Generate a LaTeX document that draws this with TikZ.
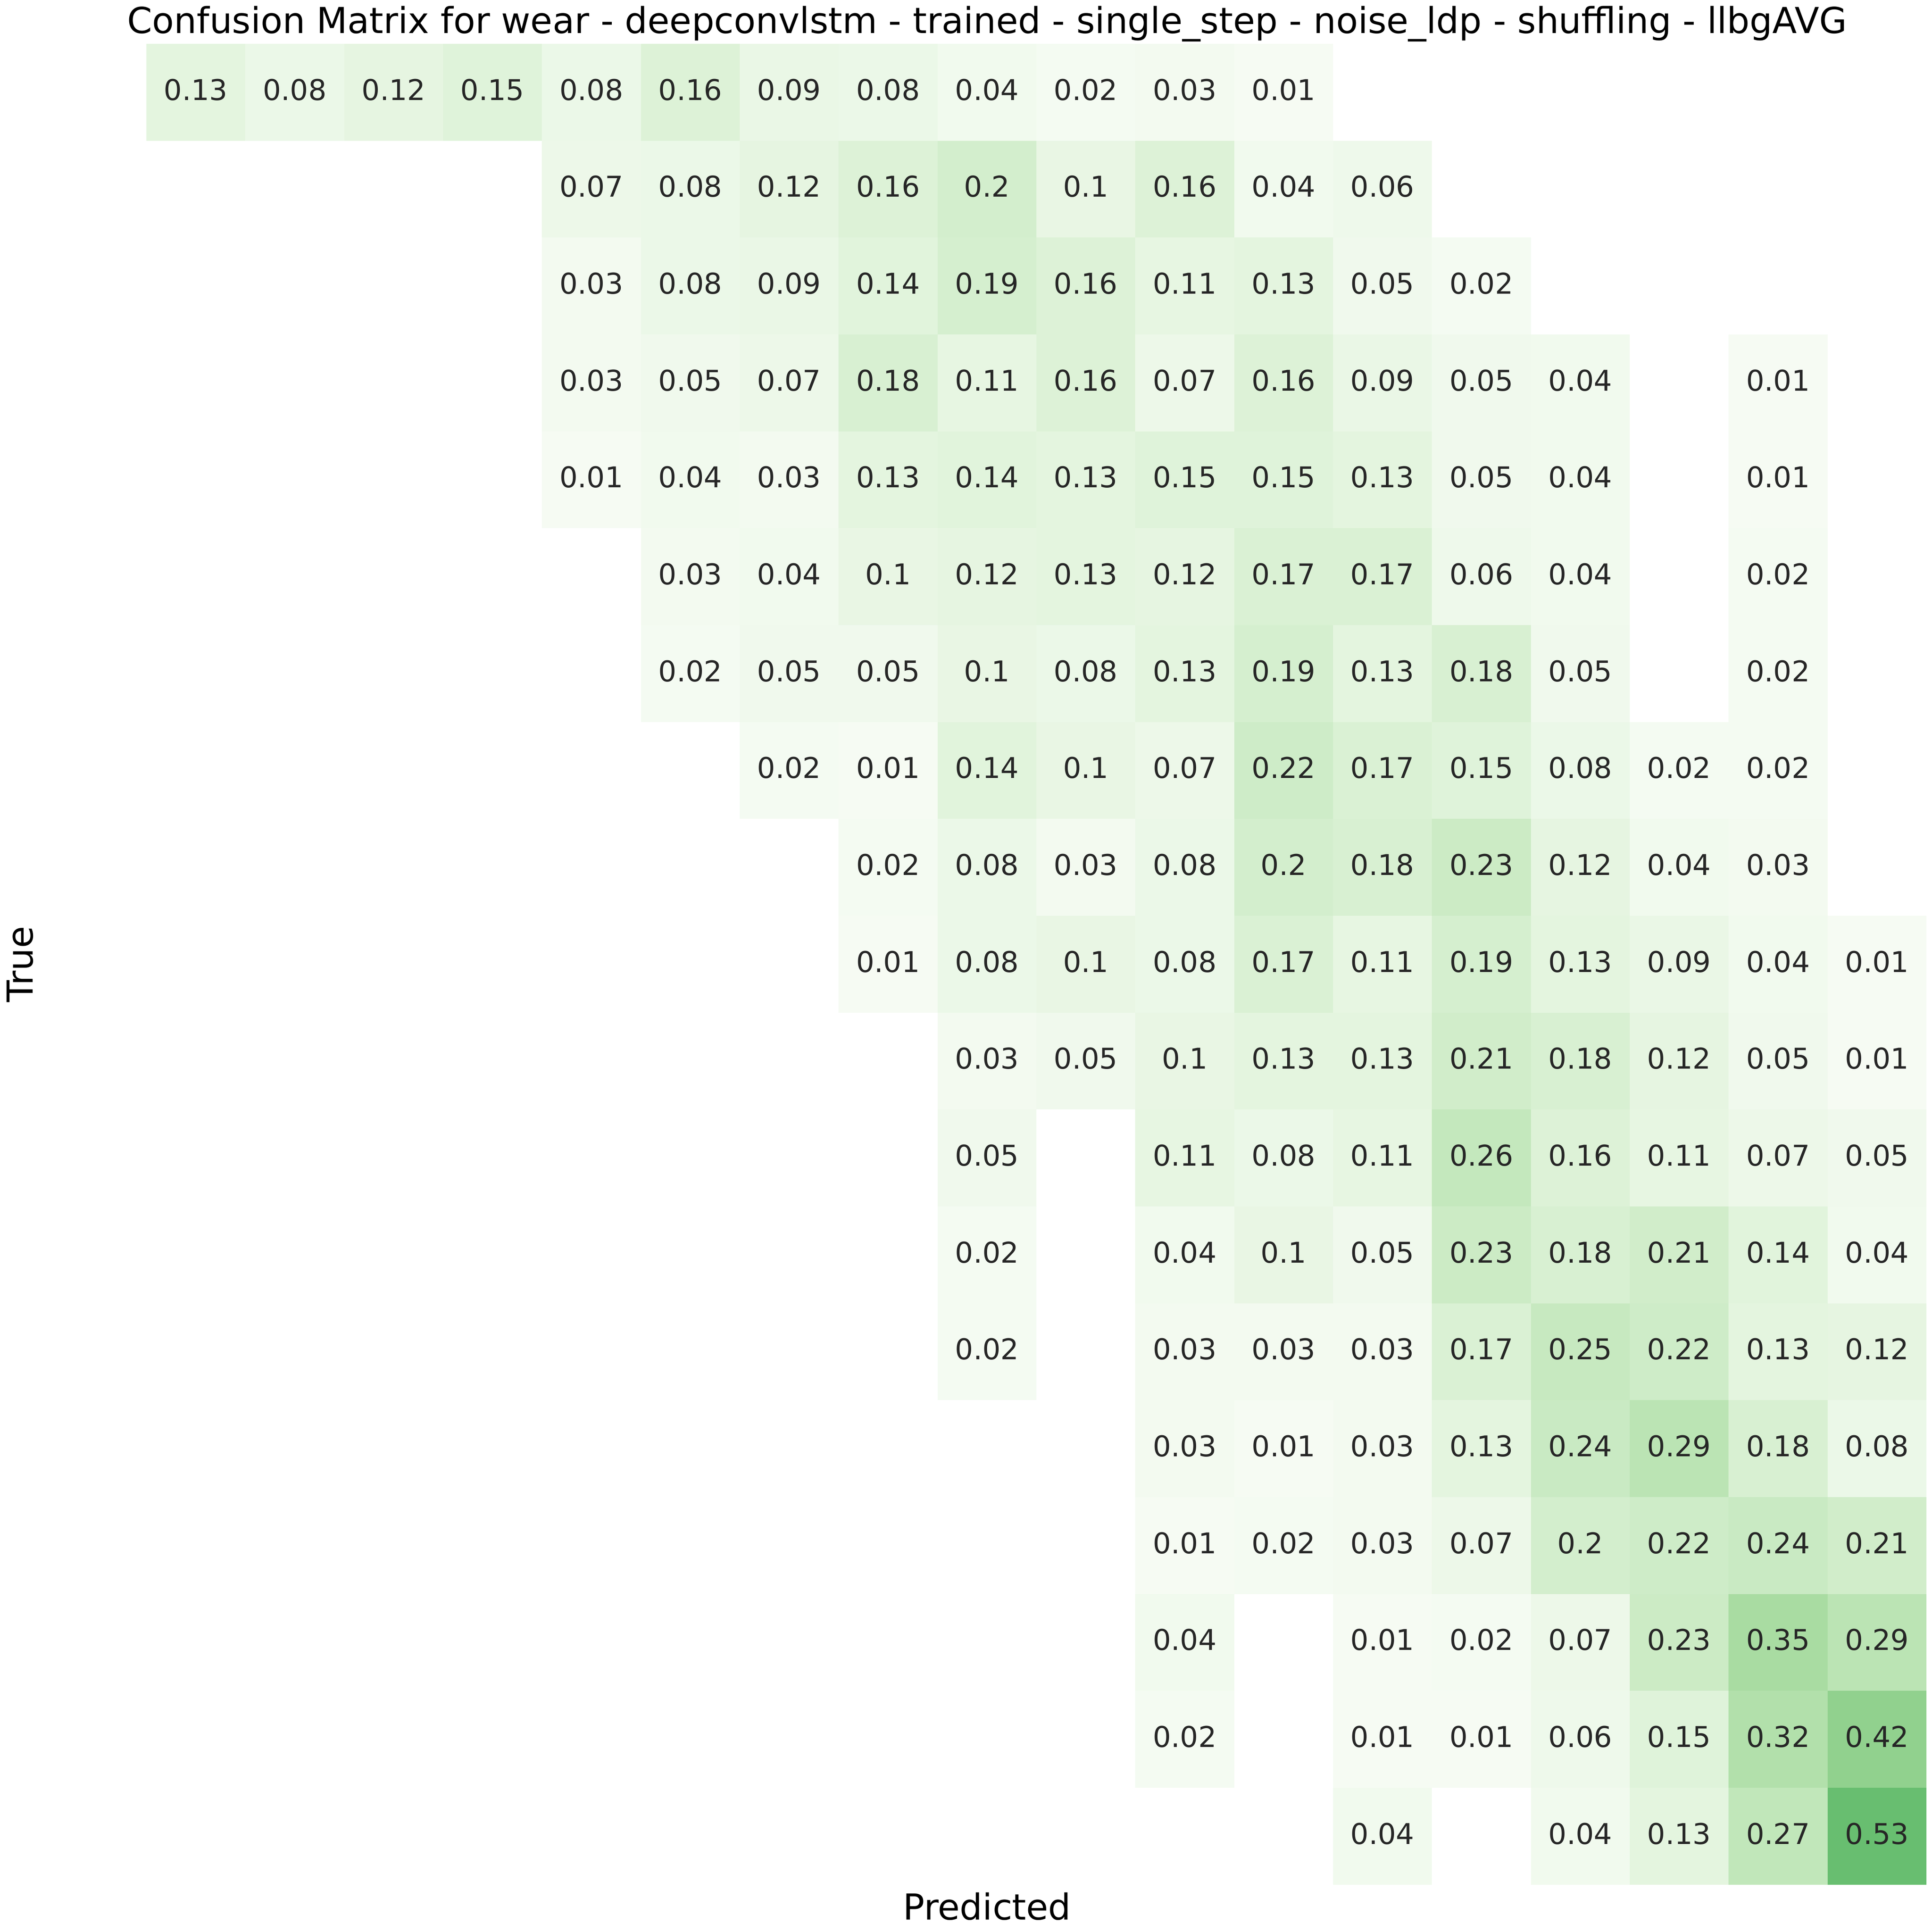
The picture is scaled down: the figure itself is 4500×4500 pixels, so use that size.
\documentclass[tikz,border=0pt]{standalone}
\usepackage{fontspec}
\setmainfont{DejaVu Sans}
\definecolor{gr0}{RGB}{247,252,245}
\definecolor{gr1}{RGB}{229,245,224}
\definecolor{gr2}{RGB}{199,233,192}
\definecolor{gr3}{RGB}{161,217,155}
\definecolor{gr4}{RGB}{116,196,118}
\definecolor{gr5}{RGB}{65,171,93}
\definecolor{annot}{RGB}{38,38,38}
\newcommand\setcellfill[1]{%
  \pgfmathsetmacro\cpos{#1*8}%
  \pgfmathtruncatemacro\cidxa{floor(\cpos)}%
  \pgfmathtruncatemacro\cidxb{\cidxa+1}%
  \pgfmathsetmacro\cpct{(\cpos-\cidxa)*100}%
  \colorlet{cellfill}{gr\cidxb!\cpct!gr\cidxa}}
\tikzset{
  cellnum/.style={inner sep=0pt, text=annot, font=\fontsize{16bp}{19bp}\selectfont},
  axlabel/.style={inner sep=0pt, font=\fontsize{20bp}{24bp}\selectfont}
}
\begin{document}
\begin{tikzpicture}[x=0.0846667mm, y=-0.0846667mm]
    \useasboundingbox (0,0) rectangle (4500,4500);
    \node[axlabel, anchor=base] (title) at (2299,77) {Confusion Matrix for wear - deepconvlstm - trained - single\_step - noise\_ldp - shuffling - llbgAVG};
    \foreach \row [count=\r from 0] in {
      {0,0.13,0.08,0.12,0.15,0.08,0.16,0.09,0.08,0.04,0.02,0.03,0.01,0,0,0,0,0,0},
      {0,0,0,0,0,0.07,0.08,0.12,0.16,0.2,0.1,0.16,0.04,0.06,0,0,0,0,0},
      {0,0,0,0,0,0.03,0.08,0.09,0.14,0.19,0.16,0.11,0.13,0.05,0.02,0,0,0,0},
      {0,0,0,0,0,0.03,0.05,0.07,0.18,0.11,0.16,0.07,0.16,0.09,0.05,0.04,0,0.01,0},
      {0,0,0,0,0,0.01,0.04,0.03,0.13,0.14,0.13,0.15,0.15,0.13,0.05,0.04,0,0.01,0},
      {0,0,0,0,0,0,0.03,0.04,0.1,0.12,0.13,0.12,0.17,0.17,0.06,0.04,0,0.02,0},
      {0,0,0,0,0,0,0.02,0.05,0.05,0.1,0.08,0.13,0.19,0.13,0.18,0.05,0,0.02,0},
      {0,0,0,0,0,0,0,0.02,0.01,0.14,0.1,0.07,0.22,0.17,0.15,0.08,0.02,0.02,0},
      {0,0,0,0,0,0,0,0,0.02,0.08,0.03,0.08,0.2,0.18,0.23,0.12,0.04,0.03,0},
      {0,0,0,0,0,0,0,0,0.01,0.08,0.1,0.08,0.17,0.11,0.19,0.13,0.09,0.04,0.01},
      {0,0,0,0,0,0,0,0,0,0.03,0.05,0.1,0.13,0.13,0.21,0.18,0.12,0.05,0.01},
      {0,0,0,0,0,0,0,0,0,0.05,0,0.11,0.08,0.11,0.26,0.16,0.11,0.07,0.05},
      {0,0,0,0,0,0,0,0,0,0.02,0,0.04,0.1,0.05,0.23,0.18,0.21,0.14,0.04},
      {0,0,0,0,0,0,0,0,0,0.02,0,0.03,0.03,0.03,0.17,0.25,0.22,0.13,0.12},
      {0,0,0,0,0,0,0,0,0,0,0,0.03,0.01,0.03,0.13,0.24,0.29,0.18,0.08},
      {0,0,0,0,0,0,0,0,0,0,0,0.01,0.02,0.03,0.07,0.2,0.22,0.24,0.21},
      {0,0,0,0,0,0,0,0,0,0,0,0.04,0,0.01,0.02,0.07,0.23,0.35,0.29},
      {0,0,0,0,0,0,0,0,0,0,0,0.02,0,0.01,0.01,0.06,0.15,0.32,0.42},
      {0,0,0,0,0,0,0,0,0,0,0,0,0,0.04,0,0.04,0.13,0.27,0.53}} {
      \foreach \v [count=\c from 0] in \row {
        \ifdim\v pt>0pt
          \setcellfill{\v}
          \fill[cellfill] ({110.7+\c*230.33},{102+\r*225.67}) rectangle ++(230.33,225.67);
          \node[cellnum] (cell-\r-\c) at ({225.87+\c*230.33},{208.8+\r*225.67}) {\v};
        \fi
      }
    }
    \node[axlabel, rotate=90, anchor=base] (true) at (76,2246) {True};
    \node[axlabel, anchor=base] (pred) at (2299,4471) {Predicted};
\end{tikzpicture}
\end{document}
